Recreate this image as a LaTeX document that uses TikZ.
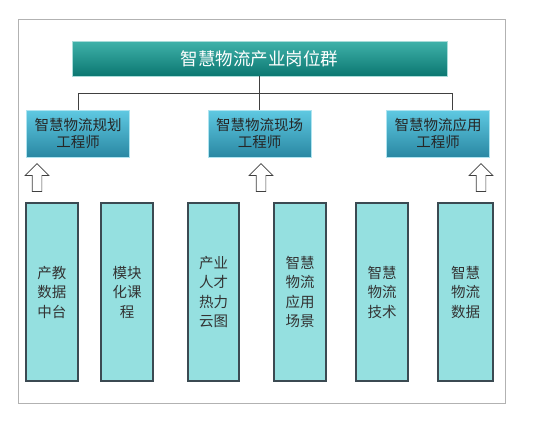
\documentclass[tikz,border=0pt]{standalone}
\usepackage{fontspec}
\newfontfamily\cjk{Noto Sans CJK SC}
\usetikzlibrary{positioning, shapes.arrows}

\definecolor{titletop}{HTML}{40B2AA}
\definecolor{titlebot}{HTML}{0B7771}
\definecolor{roletop}{HTML}{5FC9E2}
\definecolor{rolebot}{HTML}{2A88A3}
\definecolor{basefill}{HTML}{95E0E0}
\definecolor{baseline}{HTML}{3B4A52}

\begin{document}
\begin{tikzpicture}[x=1pt, y=-1pt, font=\cjk, inner sep=0pt,
    titlebox/.style={draw=titletop!45, line width=0.8pt, top color=titletop, bottom color=titlebot, minimum width=375pt, minimum height=35pt, text=white, font=\cjk\fontsize{17.5pt}{20pt}\selectfont},
    rolebox/.style={draw=roletop!50, line width=0.6pt, top color=roletop, bottom color=rolebot, minimum width=103pt, minimum height=47pt, align=center, text=black!85, font=\cjk\fontsize{14.5pt}{17pt}\selectfont},
    basebox/.style={draw=baseline, line width=1.3pt, fill=basefill, minimum height=178pt, align=center, text=black!80, font=\cjk\fontsize{14.5pt}{19.5pt}\selectfont},
    uparrow/.style={single arrow, draw=black!75, fill=white, line width=0.7pt, shape border rotate=90, minimum height=28pt, minimum width=23pt, single arrow head extend=7pt, inner sep=4.5pt},
    link/.style={draw=black!75, line width=1pt}]
    \useasboundingbox (0,0) rectangle (552,424);

    % Frame
    \draw[black!30, line width=1pt] (18,19) rectangle (505,403);

    % Industry group
    \node[titlebox] (group) at (259.5,58.5) {智慧物流产业岗位群};

    % Engineer roles
    \node[rolebox] (plan) at (78,133.5) {智慧物流规划\\工程师};
    \node[rolebox] (site) at (259.5,133.5) {智慧物流现场\\工程师};
    \node[rolebox] (appl) at (438,133.5) {智慧物流应用\\工程师};

    % Tree lines
    \coordinate (bus) at (259.5,93);
    \draw[link] (group.south) -- (bus);
    \draw[link] (plan.north) |- (bus);
    \draw[link] (bus) -| ([xshift=14pt]appl.north);
    \draw[link] (bus) -- (site.north);

    % Hollow arrows
    \node[uparrow] (up1) at (37,180) {};
    \node[uparrow] (up2) at (261,180) {};
    \node[uparrow] (up3) at (481,180) {};

    % Supporting blocks
    \node[basebox, minimum width=52pt] (b1) at (52,292) {产教\\数据\\中台};
    \node[basebox, minimum width=52pt] (b2) at (127,292) {模块\\化课\\程};
    \node[basebox, minimum width=51pt] (b3) at (213.5,292) {产业\\人才\\热力\\云图};
    \node[basebox, minimum width=52pt] (b4) at (300,292) {智慧\\物流\\应用\\场景};
    \node[basebox, minimum width=52pt] (b5) at (382,292) {智慧\\物流\\技术};
    \node[basebox, minimum width=55pt] (b6) at (465.5,292) {智慧\\物流\\数据};
\end{tikzpicture}
\end{document}
